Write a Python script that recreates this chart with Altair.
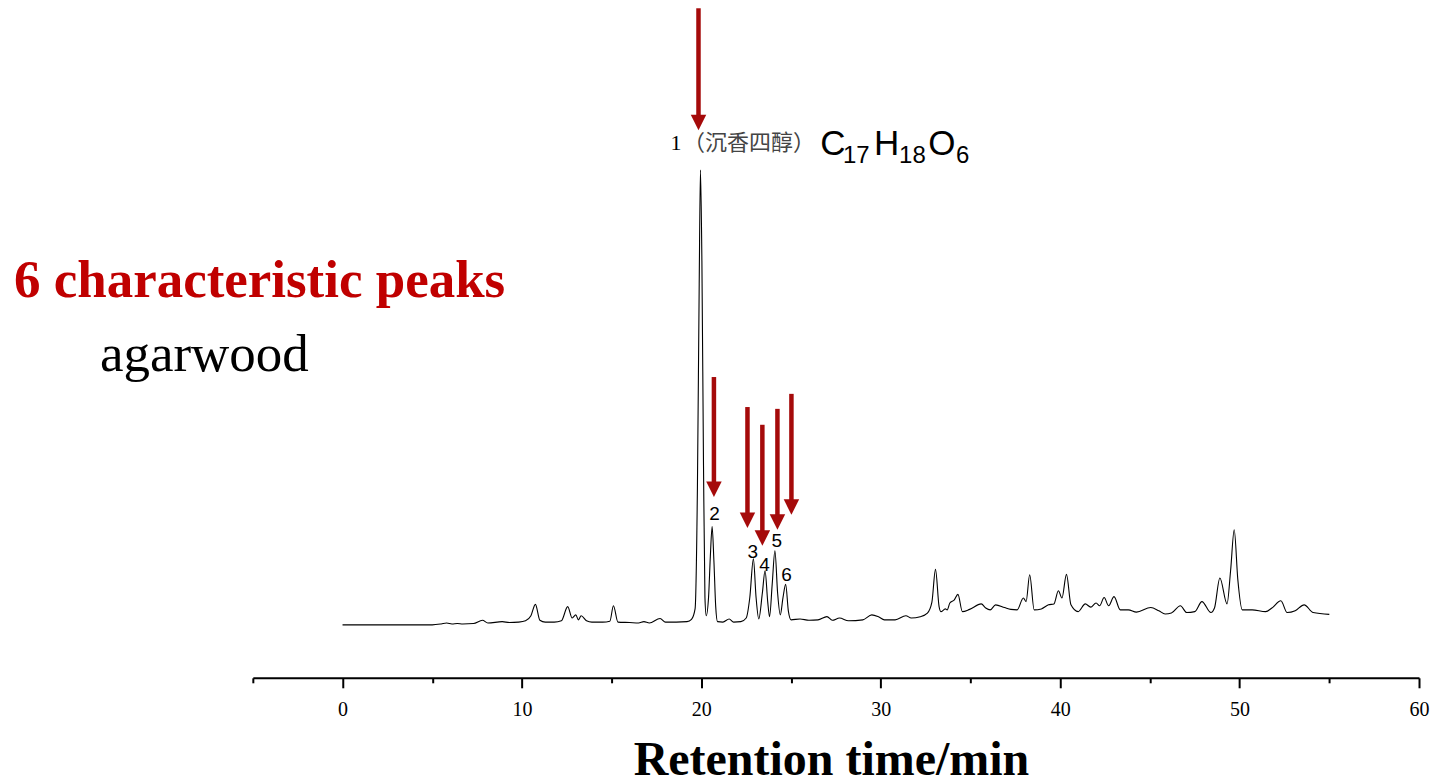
import altair as alt
import pandas as pd

# ---------------- data ----------------
time_min = [0.0, 5.0, 5.5, 5.8, 6.1, 6.4, 6.7, 7.3, 7.8, 8.1, 8.9, 9.3, 9.8, 10.2, 10.5,
            10.75, 11.0, 11.3, 11.8, 12.2, 12.55, 12.8, 13.0, 13.15, 13.3, 13.6, 13.9, 14.5,
            14.9, 15.1, 15.35, 16.0, 16.5, 16.8, 17.1, 17.7, 18.0, 18.6, 19.2, 19.45, 19.65,
            19.78, 19.88, 19.95, 20.03, 20.12, 20.2, 20.27, 20.4, 20.5, 20.6, 20.7, 20.8, 20.9,
            21.2, 21.55, 21.8, 22.2, 22.5, 22.7, 22.9, 23.05, 23.2, 23.4, 23.55, 23.7, 23.8,
            23.95, 24.1, 24.25, 24.4, 24.55, 24.7, 24.85, 25.0, 25.5, 26.0, 26.5, 27.0, 27.3,
            27.7, 28.2, 29.0, 29.5, 29.9, 30.2, 30.8, 31.4, 31.7, 32.2, 32.6, 32.85, 33.05,
            33.25, 33.35, 33.6, 33.7, 33.85, 34.1, 34.3, 34.55, 34.95, 35.6, 35.85, 36.1, 36.4,
            36.9, 37.25, 37.6, 37.95, 38.1, 38.3, 38.55, 38.95, 39.35, 39.65, 39.9, 40.1, 40.35,
            40.6, 41.0, 41.4, 41.7, 42.0, 42.2, 42.45, 42.7, 43.0, 43.35, 43.8, 44.25, 45.05,
            45.5, 45.85, 46.2, 46.7, 47.05, 47.5, 47.9, 48.4, 48.6, 48.9, 49.3, 49.5, 49.7,
            49.9, 50.15, 50.7, 51.45, 51.8, 52.3, 52.65, 53.1, 53.6, 54.1, 55.0]
signal = [0.0, 0.0, 0.2, 0.4, 0.2, 0.3, 0.2, 0.3, 1.0, 0.4, 0.7, 0.5, 0.6, 0.9, 2.0,
          4.5, 1.0, 0.6, 0.6, 0.9, 4.0, 1.5, 2.2, 1.1, 2.0, 0.9, 0.6, 0.6,
          0.8, 4.2, 0.6, 0.5, 0.4, 0.7, 0.4, 1.4, 0.6, 0.6, 0.7, 1.2, 3.5,
          30.0, 75.0, 100.0, 80.0, 35.0, 6.0, 2.0, 6.0, 15.0, 21.6, 14.0, 4.0, 0.7,
          0.6, 1.3, 0.6, 0.7, 1.5, 6.0, 14.5, 6.0, 1.3, 7.0, 11.9, 5.0, 1.8,
          9.0, 16.3, 7.0, 2.2, 6.0, 8.9, 3.0, 1.1, 1.3, 1.0, 1.1, 1.8, 1.0,
          1.5, 0.9, 1.1, 2.2, 1.7, 1.1, 1.1, 2.0, 1.5, 1.8, 2.6, 5.0, 12.2,
          4.0, 2.9, 3.5, 3.3, 4.8, 5.5, 6.7, 2.9, 3.4, 4.6, 3.7, 3.3, 4.4,
          3.8, 3.4, 3.3, 5.9, 5.1, 11.0, 3.3, 3.5, 4.4, 4.6, 7.5, 5.9, 11.1,
          4.4, 2.9, 4.6, 3.9, 4.8, 4.2, 6.0, 4.2, 6.2, 3.3, 3.3, 2.8, 3.8,
          3.1, 2.4, 2.6, 4.2, 2.7, 2.9, 5.1, 2.7, 3.7, 10.3, 4.6, 12.0, 20.9,
          10.0, 3.3, 3.3, 2.9, 3.7, 5.3, 2.7, 3.1, 4.4, 2.7, 2.3]

# arrows marking the 6 characteristic peaks (time, top of shaft, tip)
arrow_t = [19.84, 20.70, 22.57, 23.40, 24.24, 25.02]
arrow_top = [135.6, 54.5, 47.9, 44.0, 47.5, 50.8]
arrow_tip = [108.8, 28.1, 21.3, 17.4, 20.9, 24.2]

# peak numbers 2-6
peak_labels = ["2", "3", "4", "5", "6"]
peak_label_t = [20.73, 22.86, 23.52, 24.21, 24.75]
peak_label_s = [23.1, 14.7, 11.9, 17.2, 9.7]

# peak 1 annotation
p1_label = "1"
p1_t, p1_s = 18.58, 104.5
p1_name = "（沉香四醇）"
p1_name_t, p1_name_s = 18.98, 106.0

# molecular formula C17H18O6 pieces
formula_main = ["C", "H", "O"]
formula_main_t = [26.63, 29.62, 32.65]
formula_main_s = 103.3
formula_sub = ["17", "18", "6"]
formula_sub_t = [27.89, 31.02, 34.19]
formula_sub_s = 101.5

title_red = "6 characteristic peaks"
title_red_t, title_red_s = -18.31, 72.1
subtitle = "agarwood"
subtitle_t, subtitle_s = -13.52, 55.8

x_ticks = list(range(-5, 61, 5))

# ---------------- chart ----------------
DARK_RED = "#A50A0A"
PX_PER_UNIT = 4.55
HEAD = 15.5  # arrow head size in px

trace = pd.DataFrame({"t": time_min, "s": signal})
arrows = pd.DataFrame({"t": arrow_t, "top": arrow_top, "tip": arrow_tip})
arrows["shaft_end"] = arrows["tip"] + (HEAD - 2) / PX_PER_UNIT
arrows["head"] = arrows["tip"] + (HEAD / 2) / PX_PER_UNIT
peaks = pd.DataFrame({"t": peak_label_t, "s": peak_label_s, "label": peak_labels})
fmain = pd.DataFrame({"t": formula_main_t, "s": [formula_main_s] * 3, "label": formula_main})
fsub = pd.DataFrame({"t": formula_sub_t, "s": [formula_sub_s] * 3, "label": formula_sub})

xscale = alt.Scale(domain=[-5, 60], nice=False, zero=False)
yscale = alt.Scale(domain=[-11.648, 135.6], nice=False, zero=False)

x_axis = alt.Axis(
    values=x_ticks,
    labelExpr="datum.value % 10 === 0 ? datum.label : ''",
    tickSize={"condition": {"test": "datum.value % 10 === 0", "value": 10}, "value": 5},
    tickWidth=2,
    tickColor="black",
    domainColor="black",
    domainWidth=2,
    grid=False,
    labelFont="Liberation Serif",
    labelFontSize=20,
    labelColor="black",
    labelPadding=12,
    labelFlush=False,
    labelOverlap=False,
    title="Retention time/min",
    titleFont="Liberation Serif",
    titleFontWeight="bold",
    titleFontSize=48,
    titleColor="black",
    titleX=578.5,
    titleY=97,
    titleAlign="center",
    titleBaseline="alphabetic",
)

line = alt.Chart(trace).mark_line(color="black", strokeWidth=1.1, interpolate="monotone").encode(
    x=alt.X("t:Q", scale=xscale, axis=x_axis),
    y=alt.Y("s:Q", scale=yscale, axis=None),
)

shafts = alt.Chart(arrows).mark_rule(color=DARK_RED, strokeWidth=4.5, strokeCap="butt").encode(
    x=alt.X("t:Q"), y=alt.Y("top:Q"), y2="shaft_end:Q"
)
heads = alt.Chart(arrows).mark_point(
    shape="M-1,-1L1,-1L0,1Z", filled=True, size=HEAD * HEAD, color=DARK_RED, opacity=1, strokeWidth=0
).encode(x="t:Q", y="head:Q")

peak_text = alt.Chart(peaks).mark_text(
    font="Liberation Sans", fontSize=19, color="black", align="center", baseline="alphabetic"
).encode(x="t:Q", y="s:Q", text="label:N")

p1_text = alt.Chart(pd.DataFrame({"t": [p1_t], "s": [p1_s], "label": [p1_label]})).mark_text(
    font="Liberation Serif", fontSize=22, color="black", align="center", baseline="alphabetic"
).encode(x="t:Q", y="s:Q", text="label:N")

p1_name_text = alt.Chart(pd.DataFrame({"t": [p1_name_t], "s": [p1_name_s], "label": [p1_name]})).mark_text(
    font="Noto Sans CJK SC", fontSize=22, color="#444444", align="left", baseline="middle"
).encode(x="t:Q", y="s:Q", text="label:N")

fmain_text = alt.Chart(fmain).mark_text(
    font="Liberation Sans", fontSize=35, color="black", align="left", baseline="alphabetic"
).encode(x="t:Q", y="s:Q", text="label:N")
fsub_text = alt.Chart(fsub).mark_text(
    font="Liberation Sans", fontSize=24, color="black", align="left", baseline="alphabetic"
).encode(x="t:Q", y="s:Q", text="label:N")

red_text = alt.Chart(pd.DataFrame({"t": [title_red_t], "s": [title_red_s], "label": [title_red]})).mark_text(
    font="Liberation Serif", fontSize=53, fontWeight="bold", color="#C00000", align="left", baseline="alphabetic"
).encode(x="t:Q", y="s:Q", text="label:N")
sub_text = alt.Chart(pd.DataFrame({"t": [subtitle_t], "s": [subtitle_s], "label": [subtitle]})).mark_text(
    font="Liberation Serif", fontSize=53, color="black", align="left", baseline="alphabetic"
).encode(x="t:Q", y="s:Q", text="label:N")

chart = alt.layer(
    line, shafts, heads, peak_text, p1_text, p1_name_text, fmain_text, fsub_text, red_text, sub_text
).properties(
    width=1167,
    height=670,
    autosize=alt.AutoSizeParams(type="none"),
    padding={"left": 245, "top": 0, "right": 12, "bottom": 102},
    background="white",
).configure_view(stroke=None)

chart.save("out.html", embed_options={"renderer": "svg", "actions": False})
